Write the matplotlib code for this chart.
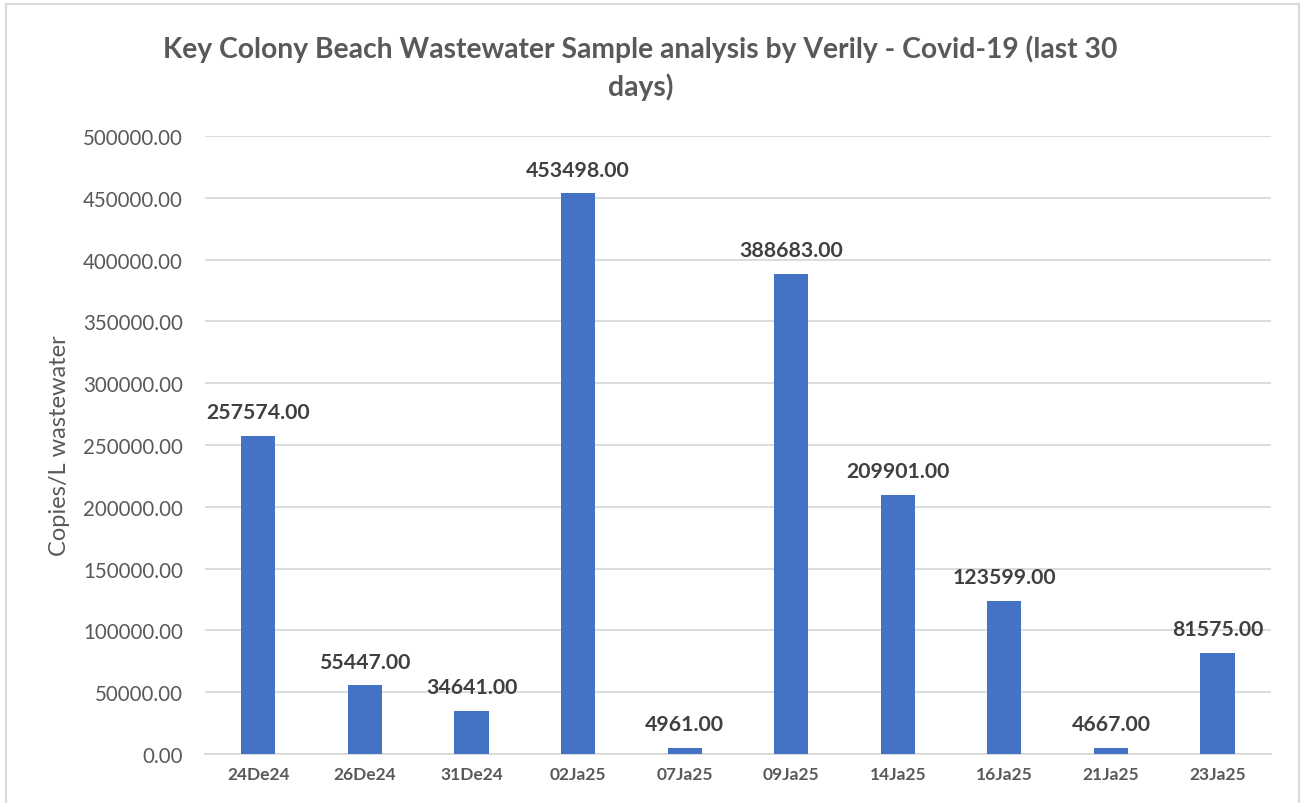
import matplotlib
matplotlib.use("Agg")
import matplotlib.pyplot as plt
from matplotlib.patches import Rectangle
from matplotlib.ticker import FuncFormatter

# ---- data ----
SAMPLE_DATES = ["24De24", "26De24", "31De24", "02Ja25", "07Ja25",
                "09Ja25", "14Ja25", "16Ja25", "21Ja25", "23Ja25"]
COPIES_PER_L = [257574.00, 55447.00, 34641.00, 453498.00, 4961.00,
                388683.00, 209901.00, 123599.00, 4667.00, 81575.00]
Y_TICKS = [0, 50000, 100000, 150000, 200000, 250000,
           300000, 350000, 400000, 450000, 500000]

TITLE = "Key Colony Beach Wastewater Sample analysis by Verily - Covid-19 (last 30\ndays)"
Y_LABEL = "Copies/L wastewater"

BAR_COLOR = "#4472C4"
TEXT_GRAY = "#595959"
LABEL_DARK = "#404040"
GRID_COLOR = "#D9D9D9"

plt.rcParams["font.family"] = ["Lato", "DejaVu Sans"]

fig = plt.figure(figsize=(13.02, 8.04), dpi=100)
ax = fig.add_axes([0.1575, 0.061, 0.8185, 0.7686])

x = range(len(SAMPLE_DATES))
bars = ax.bar(x, COPIES_PER_L, width=0.32, color=BAR_COLOR, zorder=3)

for rect, val in zip(bars, COPIES_PER_L):
    ax.annotate(f"{val:.2f}", (rect.get_x() + rect.get_width() / 2, rect.get_height()),
                xytext=(0, 10), textcoords="offset points", ha="center", va="bottom",
                fontsize=15.3, fontweight="bold", color=LABEL_DARK)

ax.set_xlim(-0.5, len(SAMPLE_DATES) - 0.5)
ax.set_ylim(0, 500000)
ax.set_yticks(Y_TICKS)
ax.yaxis.set_major_formatter(FuncFormatter(lambda v, _: f"{v:.2f}"))
ax.set_xticks(list(x))
ax.set_xticklabels(SAMPLE_DATES, fontsize=12.5, fontweight="bold", color=TEXT_GRAY)
ax.tick_params(axis="y", labelsize=14.8, labelcolor=TEXT_GRAY, length=0, pad=16)
ax.tick_params(axis="x", length=0, pad=9)
ax.grid(axis="y", color=GRID_COLOR, linewidth=1.3, zorder=0)
for side in ["top", "right", "left"]:
    ax.spines[side].set_visible(False)
ax.spines["bottom"].set_color(GRID_COLOR)
ax.spines["bottom"].set_linewidth(1.3)

ax.set_ylabel(Y_LABEL, fontsize=17, color=TEXT_GRAY)
ax.yaxis.set_label_coords(-0.127, 0.5)

fig.text(0.492, 0.915, TITLE, ha="center", va="center", fontsize=20.3,
         fontweight="bold", color=TEXT_GRAY, linespacing=1.45)

# light chart-area border like the spreadsheet export
fig.patches.append(Rectangle((6 / 1302, -0.01), 1293 / 1302, 1 - 5 / 804 + 0.01,
                             transform=fig.transFigure, fill=False,
                             edgecolor=GRID_COLOR, linewidth=1.5))

fig.savefig("out.png", dpi=100)
